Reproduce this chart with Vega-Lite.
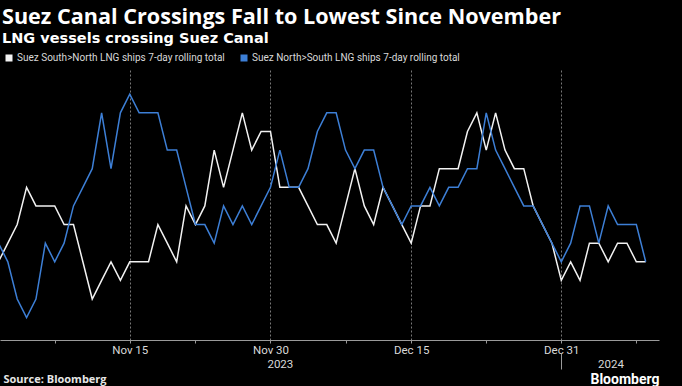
{
  "$schema": "https://vega.github.io/schema/vega-lite/v6.json",
  "width": 659,
  "height": 270,
  "autosize": {"type": "none"},
  "padding": {"left": 0, "top": 70, "right": 23, "bottom": 46},
  "background": "#000000",
  "config": {
    "view": {"stroke": null},
    "font": "Roboto"
  },
  "title": {
    "text": "Suez Canal Crossings Fall to Lowest Since November",
    "subtitle": "LNG vessels crossing Suez Canal",
    "anchor": "start",
    "frame": "group",
    "dx": 2,
    "offset": 8,
    "color": "#ffffff",
    "font": "Open Sans",
    "fontSize": 21.6,
    "fontWeight": "bold",
    "subtitleColor": "#ffffff",
    "subtitleFont": "DejaVu Sans",
    "subtitleFontSize": 14.5,
    "subtitleFontWeight": "bold",
    "subtitlePadding": 3
  },
  "data": {
    "values": [
      {"date": "2023-11-01", "sn": 4, "ns": 5},
      {"date": "2023-11-02", "sn": 5, "ns": 4},
      {"date": "2023-11-03", "sn": 6, "ns": 2},
      {"date": "2023-11-04", "sn": 8, "ns": 1},
      {"date": "2023-11-05", "sn": 7, "ns": 2},
      {"date": "2023-11-06", "sn": 7, "ns": 5},
      {"date": "2023-11-07", "sn": 7, "ns": 4},
      {"date": "2023-11-08", "sn": 6, "ns": 5},
      {"date": "2023-11-09", "sn": 6, "ns": 7},
      {"date": "2023-11-10", "sn": 4, "ns": 8},
      {"date": "2023-11-11", "sn": 2, "ns": 9},
      {"date": "2023-11-12", "sn": 3, "ns": 12},
      {"date": "2023-11-13", "sn": 4, "ns": 9},
      {"date": "2023-11-14", "sn": 3, "ns": 12},
      {"date": "2023-11-15", "sn": 4, "ns": 13},
      {"date": "2023-11-16", "sn": 4, "ns": 12},
      {"date": "2023-11-17", "sn": 4, "ns": 12},
      {"date": "2023-11-18", "sn": 6, "ns": 12},
      {"date": "2023-11-19", "sn": 5, "ns": 10},
      {"date": "2023-11-20", "sn": 4, "ns": 10},
      {"date": "2023-11-21", "sn": 7, "ns": 8},
      {"date": "2023-11-22", "sn": 6, "ns": 6},
      {"date": "2023-11-23", "sn": 7, "ns": 6},
      {"date": "2023-11-24", "sn": 10, "ns": 5},
      {"date": "2023-11-25", "sn": 8, "ns": 7},
      {"date": "2023-11-26", "sn": 10, "ns": 6},
      {"date": "2023-11-27", "sn": 12, "ns": 7},
      {"date": "2023-11-28", "sn": 10, "ns": 6},
      {"date": "2023-11-29", "sn": 11, "ns": 7},
      {"date": "2023-11-30", "sn": 11, "ns": 8},
      {"date": "2023-12-01", "sn": 8, "ns": 10},
      {"date": "2023-12-02", "sn": 8, "ns": 8},
      {"date": "2023-12-03", "sn": 8, "ns": 8},
      {"date": "2023-12-04", "sn": 7, "ns": 9},
      {"date": "2023-12-05", "sn": 6, "ns": 11},
      {"date": "2023-12-06", "sn": 6, "ns": 12},
      {"date": "2023-12-07", "sn": 5, "ns": 12},
      {"date": "2023-12-08", "sn": 7, "ns": 10},
      {"date": "2023-12-09", "sn": 9, "ns": 9},
      {"date": "2023-12-10", "sn": 7, "ns": 10},
      {"date": "2023-12-11", "sn": 6, "ns": 10},
      {"date": "2023-12-12", "sn": 8, "ns": 8},
      {"date": "2023-12-13", "sn": 7, "ns": 7},
      {"date": "2023-12-14", "sn": 6, "ns": 6},
      {"date": "2023-12-15", "sn": 5, "ns": 7},
      {"date": "2023-12-16", "sn": 7, "ns": 7},
      {"date": "2023-12-17", "sn": 7, "ns": 8},
      {"date": "2023-12-18", "sn": 9, "ns": 7},
      {"date": "2023-12-19", "sn": 9, "ns": 8},
      {"date": "2023-12-20", "sn": 9, "ns": 8},
      {"date": "2023-12-21", "sn": 11, "ns": 9},
      {"date": "2023-12-22", "sn": 12, "ns": 9},
      {"date": "2023-12-23", "sn": 10, "ns": 12},
      {"date": "2023-12-24", "sn": 12, "ns": 10},
      {"date": "2023-12-25", "sn": 10, "ns": 9},
      {"date": "2023-12-26", "sn": 9, "ns": 8},
      {"date": "2023-12-27", "sn": 9, "ns": 7},
      {"date": "2023-12-28", "sn": 7, "ns": 7},
      {"date": "2023-12-29", "sn": 6, "ns": 6},
      {"date": "2023-12-30", "sn": 5, "ns": 5},
      {"date": "2023-12-31", "sn": 3, "ns": 4},
      {"date": "2024-01-01", "sn": 4, "ns": 5},
      {"date": "2024-01-02", "sn": 3, "ns": 7},
      {"date": "2024-01-03", "sn": 5, "ns": 7},
      {"date": "2024-01-04", "sn": 5, "ns": 5},
      {"date": "2024-01-05", "sn": 4, "ns": 7},
      {"date": "2024-01-06", "sn": 5, "ns": 6},
      {"date": "2024-01-07", "sn": 5, "ns": 6},
      {"date": "2024-01-08", "sn": 4, "ns": 6},
      {"date": "2024-01-09", "sn": 4, "ns": 4}
    ]
  },
  "transform": [
    {"fold": ["sn", "ns"], "as": ["series", "value"]}
  ],
  "layer": [
    {
      "mark": {"type": "line", "strokeWidth": 1.5, "interpolate": "linear"},
      "encoding": {
        "x": {
          "field": "date",
          "type": "temporal",
          "scale": {
            "type": "utc",
            "domain": [
              {"year": 2023, "month": 11, "date": 1, "hours": 4, "utc": true},
              {"year": 2024, "month": 1, "date": 10, "hours": 10, "utc": true}
            ]
          },
          "axis": {
            "title": "Source: Bloomberg",
            "titleX": 3,
            "titleY": 42,
            "titleAlign": "left",
            "titleAnchor": null,
            "titleBaseline": "alphabetic",
            "titleColor": "#e6e6e6",
            "titleFont": "Open Sans",
            "titleFontSize": 11,
            "titleFontWeight": "bold",
            "values": [
              {"year": 2023, "month": 11, "date": 7, "utc": true},
              {"year": 2023, "month": 11, "date": 15, "utc": true},
              {"year": 2023, "month": 11, "date": 22, "utc": true},
              {"year": 2023, "month": 11, "date": 30, "utc": true},
              {"year": 2023, "month": 12, "date": 8, "utc": true},
              {"year": 2023, "month": 12, "date": 15, "utc": true},
              {"year": 2023, "month": 12, "date": 23, "utc": true},
              {"year": 2023, "month": 12, "date": 31, "utc": true},
              {"year": 2024, "month": 1, "date": 8, "utc": true}
            ],
            "labelExpr": "(utcdate(datum.value) == 15 || utcdate(datum.value) >= 30) ? utcFormat(datum.value, '%b %d') : ''",
            "labelAngle": 0,
            "labelFlush": false,
            "labelOverlap": false,
            "labelColor": "#d9d9d9",
            "labelFont": "Roboto",
            "labelFontSize": 11.5,
            "labelPadding": 1,
            "labelBaseline": "top",
            "domainColor": "#9a9a9a",
            "tickColor": "#9a9a9a",
            "tickSize": 3,
            "grid": true,
            "gridColor": "#777777",
            "gridDash": [2, 2],
            "gridOpacity": {"condition": {"test": "utcdate(datum.value) == 15 || utcdate(datum.value) >= 30", "value": 1}, "value": 0}
          }
        },
        "y": {
          "field": "value",
          "type": "quantitative",
          "scale": {"domain": [-0.2, 14.3], "nice": false, "zero": false},
          "axis": {
            "orient": "right",
            "title": null,
            "values": [0, 1, 2, 3, 4, 5, 6, 7, 8, 9, 10, 11, 12, 13, 14],
            "labelExpr": "datum.value % 2 == 0 ? datum.label : ''",
            "labelColor": "#d9d9d9",
            "labelFont": "Roboto",
            "labelFontSize": 12,
            "labelPadding": 2,
            "domainColor": "#9a9a9a",
            "tickColor": "#9a9a9a",
            "tickSize": 3,
            "grid": true,
            "gridColor": "#777777",
            "gridDash": [2, 2],
            "gridOpacity": {"condition": {"test": "datum.value % 2 == 0", "value": 1}, "value": 0}
          }
        },
        "color": {
          "field": "series",
          "type": "nominal",
          "scale": {"domain": ["sn", "ns"], "range": ["#f2f2f2", "#3d7fd6"]},
          "legend": {
            "orient": "none",
            "legendX": 4,
            "legendY": -17,
            "direction": "horizontal",
            "title": null,
            "symbolType": "square",
            "symbolSize": 49,
            "symbolStrokeWidth": 0,
            "labelExpr": "datum.value == 'sn' ? 'Suez South>North LNG ships 7-day rolling total' : 'Suez North>South LNG ships 7-day rolling total'",
            "labelColor": "#d9d9d9",
            "labelFont": "Roboto",
            "labelFontSize": 10,
            "labelLimit": 400,
            "labelOffset": 3,
            "columnPadding": 14,
            "encode": {
              "symbols": {
                "update": {
                  "fill": {"scale": "color", "field": "value"},
                  "strokeWidth": {"value": 0}
                }
              }
            }
          }
        }
      }
    },
    {
      "mark": {"type": "line", "opacity": 0, "strokeOpacity": 0},
      "encoding": {
        "x": {
          "field": "date",
          "type": "temporal",
          "scale": {
            "type": "utc",
            "domain": [
              {"year": 2023, "month": 11, "date": 1, "hours": 4, "utc": true},
              {"year": 2024, "month": 1, "date": 10, "hours": 10, "utc": true}
            ]
          },
          "axis": {
            "orient": "bottom",
            "title": "Bloomberg",
            "titleX": 659,
            "titleY": 30,
            "titleAlign": "right",
            "titleAnchor": null,
            "titleBaseline": "alphabetic",
            "titleColor": "#ffffff",
            "titleFont": "Roboto",
            "titleFontSize": 14,
            "titleFontWeight": "bold",
            "offset": 13,
            "domain": false,
            "grid": false,
            "values": [
              {"year": 2023, "month": 12, "date": 1, "utc": true},
              {"year": 2023, "month": 12, "date": 31, "utc": true},
              {"year": 2024, "month": 1, "date": 5, "hours": 6, "utc": true}
            ],
            "labelExpr": "utcdate(datum.value) == 31 ? '' : utcFormat(datum.value, '%Y')",
            "labelAngle": 0,
            "labelFlush": false,
            "labelOverlap": false,
            "labelColor": "#d9d9d9",
            "labelFont": "Roboto",
            "labelFontSize": 11.5,
            "labelBaseline": "top",
            "labelPadding": -11,
            "tickSize": 16,
            "tickColor": "#9a9a9a",
            "tickOpacity": {"condition": {"test": "utcdate(datum.value) == 31", "value": 1}, "value": 0}
          }
        },
        "y": {
          "field": "value",
          "type": "quantitative",
          "scale": {"domain": [-0.2, 14.3], "nice": false, "zero": false},
          "axis": null
        }
      }
    }
  ],
  "resolve": {"axis": {"x": "independent"}}
}
